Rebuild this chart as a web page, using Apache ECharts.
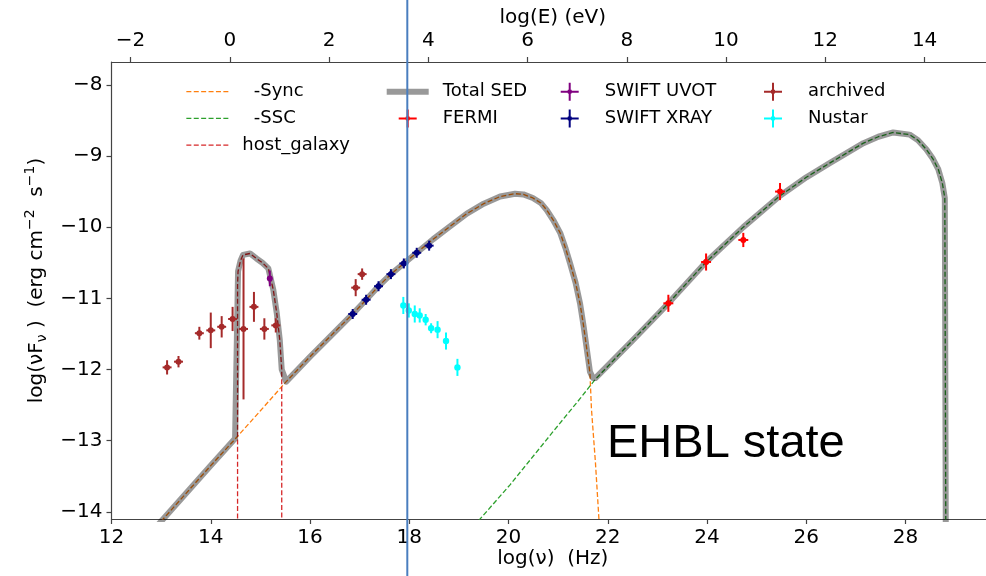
<!DOCTYPE html>
<html><head><meta charset="utf-8">
<script src="https://cdn.jsdelivr.net/npm/echarts@6/dist/echarts.min.js"></script>
<style>html,body{margin:0;padding:0;background:#fff}#c{width:986px;height:576px}</style>
</head><body><div id="c"></div>
<script>
const FONT = 'DejaVu Sans';
const xTicks = [12,14,16,18,20,22,24,26,28];
const eTicks = [-2,0,2,4,6,8,10,12,14];
const yTicks = [-14,-13,-12,-11,-10,-9,-8];
const H_EV = 14.383;           // log10(nu) of 1 eV
const X_MIN = 12, X_MAX = 29.62, Y_MIN = -14.1, Y_MAX = -7.68;
const markerNu = 17.96;

// model curves (log nu, log nuFnu)
const syncNu = [12.8,14.0,14.5,15.0,15.52,16.0,16.5,16.86,17.13,17.38,17.63,17.89,18.15,18.48,18.8,19.16,19.5,19.83,20.13,20.3,20.49,20.65,20.77,20.9,21.04,21.15,21.24,21.35,21.44,21.51,21.57,21.64,21.67,21.75,21.83];
const syncY  = [-14.29,-13.35,-12.97,-12.58,-12.17,-11.82,-11.47,-11.22,-11.02,-10.83,-10.66,-10.51,-10.36,-10.17,-10.0,-9.81,-9.67,-9.57,-9.53,-9.54,-9.59,-9.66,-9.76,-9.9,-10.08,-10.3,-10.51,-10.78,-11.07,-11.38,-11.68,-12.05,-12.55,-13.3,-14.2];
const sscNu = [19.2,20.03,20.9,21.44,21.74,22.5,23.22,23.98,24.73,25.47,26.0,26.47,27.15,27.45,27.75,28.08,28.25,28.42,28.55,28.66,28.74,28.79,28.81];
const sscY  = [-14.28,-13.62,-12.87,-12.41,-12.145,-11.59,-11.07,-10.49,-10.0,-9.56,-9.3,-9.10,-8.82,-8.73,-8.67,-8.70,-8.78,-8.91,-9.04,-9.19,-9.38,-9.59,-14.3];
const hostNu = [14.54,14.54,14.55,14.6,14.65,14.79,14.92,15.04,15.16,15.26,15.33,15.39,15.43,15.43];
const hostY  = [-14.3,-10.8,-10.62,-10.47,-10.39,-10.37,-10.44,-10.5,-10.58,-10.88,-11.21,-11.58,-12.0,-14.3];
const totalNu = [12.8,14.0,14.49,14.55,14.6,14.65,14.79,14.92,15.04,15.16,15.26,15.33,15.39,15.43,15.52,16.0,16.5,16.86,17.13,17.38,17.63,17.89,18.15,18.48,18.8,19.16,19.5,19.83,20.13,20.3,20.49,20.65,20.77,20.9,21.04,21.15,21.24,21.35,21.44,21.51,21.57,21.64,21.7,21.75,22.5,23.22,23.98,24.73,25.47,26.0,26.47,27.15,27.45,27.75,28.08,28.25,28.42,28.55,28.66,28.74,28.79,28.81];
const totalY  = [-14.29,-13.35,-12.97,-10.62,-10.47,-10.39,-10.37,-10.44,-10.5,-10.58,-10.88,-11.21,-11.58,-12.0,-12.17,-11.82,-11.47,-11.22,-11.02,-10.83,-10.66,-10.51,-10.36,-10.17,-10.0,-9.81,-9.67,-9.57,-9.53,-9.54,-9.59,-9.66,-9.76,-9.9,-10.08,-10.3,-10.51,-10.78,-11.07,-11.38,-11.68,-12.03,-12.12,-12.12,-11.59,-11.07,-10.49,-10.0,-9.56,-9.3,-9.10,-8.82,-8.73,-8.67,-8.70,-8.78,-8.91,-9.04,-9.19,-9.38,-9.59,-14.3];

// observations
const archNu = [13.12,13.35,13.77,14.0,14.22,14.44,14.66,14.87,15.08,15.31,16.92,17.05];
const archY  = [-11.97,-11.89,-11.49,-11.45,-11.40,-11.29,-11.43,-11.12,-11.43,-11.38,-10.85,-10.66];
const archYerr = [0.1,0.08,0.09,0.25,0.15,0.17,0.99,0.21,0.15,0.1,0.12,0.08];
const archXerr = [0.09,0.09,0.09,0.09,0.09,0.09,0.09,0.09,0.09,0.09,0.09,0.09];
const uvotNu = [15.19], uvotY = [-10.72], uvotYerr = [0.11], uvotXerr = [0.03];
const xrayNu = [16.86,17.13,17.38,17.63,17.89,18.15,18.40];
const xrayY  = [-11.22,-11.02,-10.83,-10.66,-10.51,-10.36,-10.26];
const xrayYerr = [0.07,0.07,0.07,0.07,0.07,0.07,0.07];
const xrayXerr = [0.09,0.09,0.09,0.09,0.09,0.09,0.09];
const nuNu = [17.88,17.99,18.11,18.21,18.33,18.44,18.57,18.74,18.97];
const nuY  = [-11.10,-11.17,-11.22,-11.24,-11.30,-11.42,-11.44,-11.60,-11.97];
const nuYerr = [0.12,0.1,0.12,0.1,0.08,0.07,0.12,0.12,0.12];
const nuXerr = [0.02,0.02,0.02,0.02,0.02,0.02,0.02,0.02,0.02];
const fermiNu = [23.22,23.98,24.73,25.47];
const fermiY  = [-11.07,-10.49,-10.18,-9.50];
const fermiYerr = [0.12,0.12,0.1,0.12];
const fermiXerr = [0.1,0.1,0.1,0.1];

const zip = (a, b) => a.map((v, i) => [v, b[i]]);
const minus = v => (v < 0 ? '\u2212' : '') + Math.abs(v);
const CROSS = 'path://M0,8H18V10H0ZM8,0H10V18H8ZM9,6.6A2.4,2.4,0,1,1,8.99,6.6Z';

function lineSeries(name, nu, y, color, width, dashed, z) {
  return { type: 'line', name, data: zip(nu, y), symbol: 'none', z, clip: true,
    lineStyle: { color, width, type: dashed ? [5, 2.4] : 'solid', join: 'round' },
    itemStyle: { color }, silent: true, animation: false };
}
function errSeries(name, color, nu, y, xe, ye, r) {
  return {
    type: 'custom', name, z: 6, clip: true, animation: false,
    data: nu.map((v, i) => [v, y[i], xe[i], ye[i]]),
    encode: { x: 0, y: 1 }, itemStyle: { color },
    renderItem: (p, api) => {
      const x = api.value(0), yy = api.value(1), xe = api.value(2), ye = api.value(3);
      const c = api.coord([x, yy]);
      const l = api.coord([x - xe, yy]), rr = api.coord([x + xe, yy]);
      const t = api.coord([x, yy + ye]), b = api.coord([x, yy - ye]);
      return { type: 'group', children: [
        { type: 'line', shape: { x1: l[0], y1: c[1], x2: rr[0], y2: c[1] }, style: { stroke: color, lineWidth: 2 } },
        { type: 'line', shape: { x1: c[0], y1: t[1], x2: c[0], y2: b[1] }, style: { stroke: color, lineWidth: 2 } },
        { type: 'circle', shape: { cx: c[0], cy: c[1], r }, style: { fill: color } }
      ] };
    }
  };
}

const legendBase = { orient: 'vertical', padding: 0, itemWidth: 42, itemHeight: 18, itemGap: 8.7, top: 82.7,
  selectedMode: false,
  textStyle: { fontFamily: FONT, fontSize: 18, color: '#000', padding: [0, 0, 0, 9], lineHeight: 18 } };
const lineLegend = (name, w) => ({ name, itemStyle: { opacity: 0 }, lineStyle: { width: w } });

const axisCommon = {
  axisLine: { show: true, onZero: false, lineStyle: { color: '#444', width: 1.2 } },
  axisTick: { show: true, inside: false, length: 5, lineStyle: { color: '#444', width: 1.2 } },
  splitLine: { show: false },
  nameMoveOverlap: false,
  axisLabel: { fontFamily: FONT, fontSize: 20, color: '#000', formatter: minus }
};

const chart = echarts.init(document.getElementById('c'), null, { renderer: 'canvas' });
chart.setOption({
  backgroundColor: '#fff',
  animation: false,
  grid: { left: 111.5, right: 0, top: 62, bottom: 57 },
  xAxis: [
    Object.assign({}, axisCommon, { type: 'value', position: 'bottom', min: X_MIN, max: X_MAX,
      axisTick: Object.assign({}, axisCommon.axisTick, { customValues: xTicks }),
      axisLabel: Object.assign({}, axisCommon.axisLabel, { customValues: xTicks, margin: 9 }),
      name: 'log(\u03BD)  (Hz)', nameLocation: 'middle', nameGap: 30,
      nameTextStyle: { fontFamily: FONT, fontSize: 20, color: '#000', verticalAlign: 'top', padding: [0, 0, 0, 8] } }),
    Object.assign({}, axisCommon, { type: 'value', position: 'top', min: X_MIN - H_EV, max: X_MAX - H_EV,
      axisTick: Object.assign({}, axisCommon.axisTick, { customValues: eTicks }),
      axisLabel: Object.assign({}, axisCommon.axisLabel, { customValues: eTicks, margin: 11 }),
      name: 'log(E) (eV)', nameLocation: 'middle', nameGap: 34,
      nameTextStyle: { fontFamily: FONT, fontSize: 20, color: '#000', verticalAlign: 'bottom', padding: [0, 0, 0, 8] } })
  ],
  yAxis: [
    Object.assign({}, axisCommon, { type: 'value', position: 'left', min: Y_MIN, max: Y_MAX,
      axisTick: Object.assign({}, axisCommon.axisTick, { customValues: yTicks }),
      axisLabel: Object.assign({}, axisCommon.axisLabel, { customValues: yTicks, margin: 9 }),
      name: '{a|log(\u03BDF}{s|\u03BD}{a| )  (erg cm}{p|\u22122}{a|  s}{p|\u22121}{a|)}',
      nameLocation: 'middle', nameRotate: 90, nameGap: 62,
      nameTextStyle: { padding: [0, 0, 0, 20], rich: {
        a: { fontFamily: FONT, fontSize: 20, color: '#000', lineHeight: 26 },
        s: { fontFamily: FONT, fontSize: 14, color: '#000', lineHeight: 14, verticalAlign: 'bottom' },
        p: { fontFamily: FONT, fontSize: 14, color: '#000', lineHeight: 14, verticalAlign: 'top' }
      } } })
  ],
  legend: [
    Object.assign({}, legendBase, { left: 185.7, data: [lineLegend('  -Sync', 1.3), lineLegend('  -SSC', 1.3), lineLegend('host_galaxy', 1.3)] }),
    Object.assign({}, legendBase, { left: 383.7, data: [lineLegend('Total SED', 6), { name: 'FERMI', icon: CROSS }] }),
    Object.assign({}, legendBase, { left: 560.7, data: [{ name: 'SWIFT UVOT', icon: CROSS }, { name: 'SWIFT XRAY', icon: CROSS }] }),
    Object.assign({}, legendBase, { left: 764, data: [{ name: 'archived', icon: CROSS }, { name: 'Nustar', icon: CROSS }] })
  ],
  series: [
    lineSeries('  -Sync', syncNu, syncY, '#ff7f0e', 1.3, true, 2),
    lineSeries('  -SSC', sscNu, sscY, '#2ca02c', 1.3, true, 2),
    lineSeries('host_galaxy', hostNu, hostY, '#d62728', 1.3, true, 2),
    lineSeries('Total SED', totalNu, totalY, 'rgba(0,0,0,0.4)', 6, false, 3),
    errSeries('FERMI', '#ff0000', fermiNu, fermiY, fermiXerr, fermiYerr, 3),
    errSeries('SWIFT UVOT', '#800080', uvotNu, uvotY, uvotXerr, uvotYerr, 3),
    errSeries('SWIFT XRAY', '#000080', xrayNu, xrayY, xrayXerr, xrayYerr, 3),
    errSeries('archived', '#a52a2a', archNu, archY, archXerr, archYerr, 3),
    errSeries('Nustar', '#00ffff', nuNu, nuY, nuXerr, nuYerr, 3.2)
  ]
});

const px = chart.convertToPixel({ xAxisIndex: 0 }, markerNu);
chart.setOption({
  graphic: [
    { type: 'line', z: 100, silent: true, shape: { x1: px, y1: 0, x2: px, y2: 576 },
      style: { stroke: '#4a7ebf', lineWidth: 2 } },
    { type: 'text', z: 100, silent: true, x: 607, y: 444,
      style: { text: 'EHBL state', fill: '#000', font: '47px "Liberation Sans"', textAlign: 'left', textVerticalAlign: 'middle', verticalAlign: 'middle' } }
  ]
});
</script></body></html>
